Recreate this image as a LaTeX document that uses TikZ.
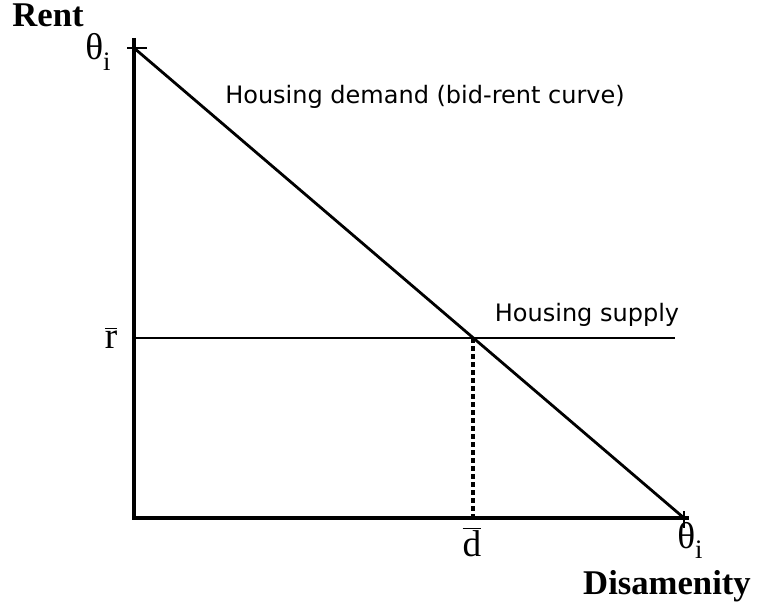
\documentclass[tikz,border=0pt]{standalone}
\usepackage{fontspec}
\setmainfont{Liberation Serif}
\newfontfamily\labelsans{DejaVu Sans}
\begin{document}
\begin{tikzpicture}[x=0.75pt,y=-0.75pt,
  axisline/.style={line width=2.6pt},
  demandline/.style={line width=2.1pt},
  supplyline/.style={line width=1.1pt},
  guideline/.style={line width=2.5pt,dash pattern=on 4pt off 2pt},
  ticklabel/.style={font=\fontsize{28}{30}\selectfont,inner sep=0pt,anchor=base},
  axislabel/.style={font=\fontsize{26}{30}\selectfont\bfseries,inner sep=0pt,anchor=base},
  curvelabel/.style={font=\labelsans\fontsize{18}{21}\selectfont,inner sep=0pt}]
\useasboundingbox (0,0) rectangle (759,602);
\coordinate (top) at (134,38);
\coordinate (origin) at (134,518);
\coordinate (right) at (689,518);
\coordinate (dtop) at (134,48);
\coordinate (dbot) at (684,518);
\coordinate (sL) at (134,338);
\coordinate (sR) at (675,338);
\coordinate (eq) at (473,338);
\coordinate (eqb) at (473,518);
\coordinate (tickTL) at (127,48);
\coordinate (tickTR) at (147,48);
\coordinate (tickBT) at (684,511);
\coordinate (tickBB) at (684,528);
% axes
\draw[axisline] (top) -- (origin) -- (right);
\draw[line width=1.2pt] (tickTL) -- (tickTR);
\draw[line width=1.2pt] (tickBT) -- (tickBB);
% curves
\draw[demandline] (dtop) -- (dbot);
\draw[supplyline] (sL) -- (sR);
\draw[guideline] (eq) -- (eqb);
% labels
\node[axislabel] (rent) at (48,27) {Rent};
\node[axislabel] (dis) at (667,594) {Disamenity};
\node[ticklabel] (thtop) at (98,60) {θ\raisebox{-0.28em}{\fontsize{20}{22}\selectfont i}};
\node[ticklabel] (thbot) at (690,548) {θ\raisebox{-0.28em}{\fontsize{20}{22}\selectfont i}};
\node[ticklabel] (rbar) at (111,348) {$\overline{\mbox{r}}$};
\node[ticklabel] (dbar) at (472,556) {$\overline{\mbox{d}}$};
\node[curvelabel] (dlab) at (425,97) {Housing demand (bid-rent curve)};
\node[curvelabel] (slab) at (587,315) {Housing supply};
\end{tikzpicture}
\end{document}
